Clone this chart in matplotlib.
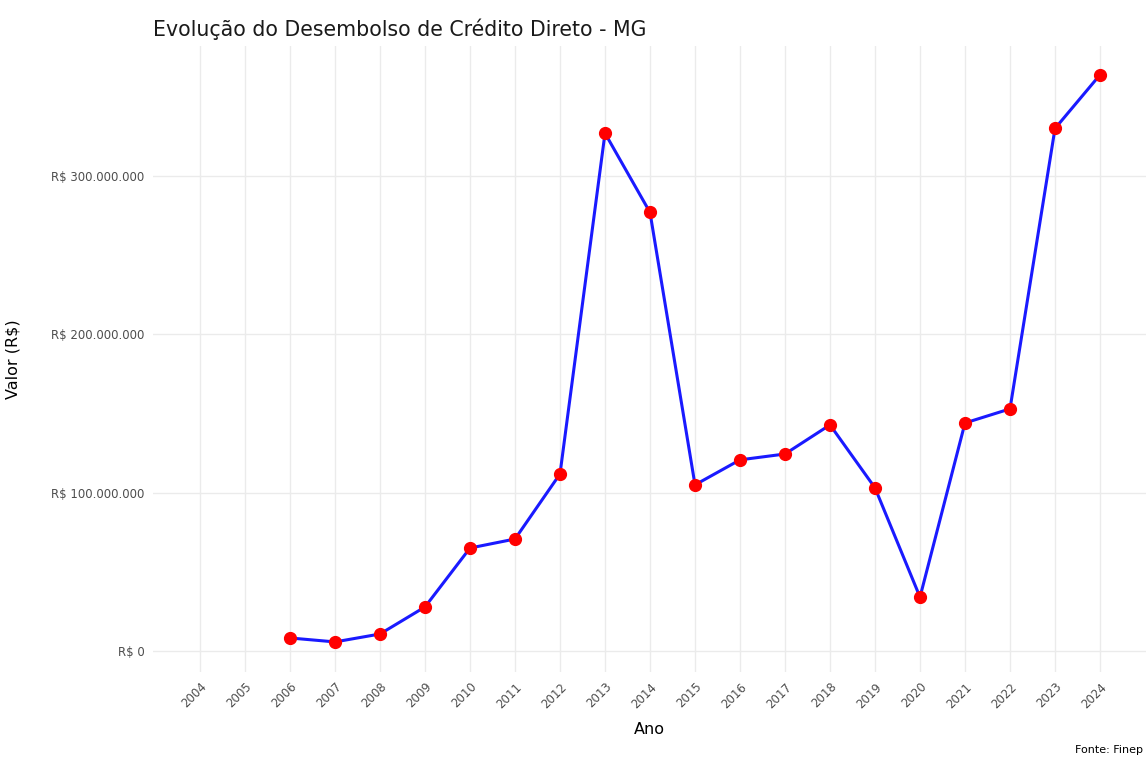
import matplotlib.pyplot as plt
from matplotlib.ticker import FuncFormatter

anos = list(range(2004, 2025))
anos_dados = [2006, 2007, 2008, 2009, 2010, 2011, 2012, 2013, 2014, 2015,
              2016, 2017, 2018, 2019, 2020, 2021, 2022, 2023, 2024]
valores = [8.2e6, 5.7e6, 10.7e6, 27.8e6, 65.0e6, 70.7e6, 111.8e6, 327.0e6, 277.0e6, 104.9e6,
           120.7e6, 124.4e6, 142.8e6, 103.0e6, 34.0e6, 144.0e6, 152.9e6, 330.0e6, 363.9e6]
yticks = [0, 100e6, 200e6, 300e6]


def reais(v, pos):
    return "R$ " + format(int(v), ",").replace(",", ".")


W, H = 1146, 759
fig = plt.figure(figsize=(W / 100, H / 100), dpi=100)
ax = fig.add_axes([153 / W, 1 - 672 / H, (1146 - 153) / W, (672 - 46) / H])

ax.plot(anos_dados, valores, color="#1a1aff", linewidth=2.2, zorder=3)
ax.plot(anos_dados, valores, "o", color="red", markersize=8.5, zorder=4)

ax.set_xlim(2004 - 47 / 45, 2024 + 46 / 45)
ax.set_ylim(-13.3e6, 382.1e6)
ax.set_xticks(anos)
ax.set_xticklabels([str(a) for a in anos], rotation=45, ha="right",
                   rotation_mode="anchor", fontsize=8.5, color="#4d4d4d")
ax.set_yticks(yticks)
ax.yaxis.set_major_formatter(FuncFormatter(reais))
ax.tick_params(axis="y", labelsize=8.5, labelcolor="#4d4d4d")
ax.tick_params(length=0, pad=6)

ax.grid(True, color="#ebebeb", linewidth=1.0)
ax.set_axisbelow(True)
for s in ax.spines.values():
    s.set_visible(False)

ax.set_xlabel("Ano", fontsize=11.5, labelpad=8)
ax.set_ylabel("Valor (R$)", fontsize=11.5)
ax.yaxis.set_label_coords(-133 / (1146 - 153), 0.5)
fig.text(153 / W, 1 - 29 / H, "Evolução do Desembolso de Crédito Direto - MG",
         fontsize=14.8, va="center", ha="left", color="#1a1a1a")
fig.text(1143 / W, 1 - 750 / H, "Fonte: Finep", fontsize=8, ha="right", va="center")

fig.savefig("out.png", dpi=100)
